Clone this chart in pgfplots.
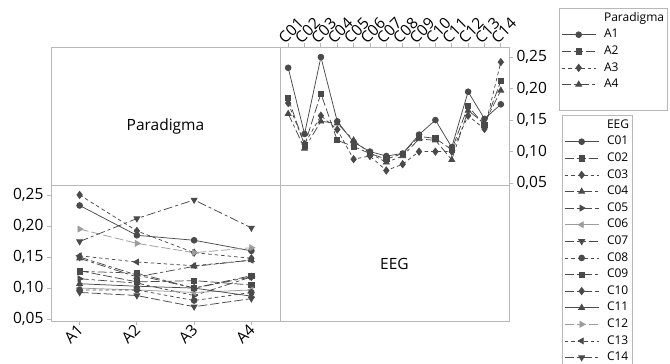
\documentclass[border=0pt]{standalone}
\usepackage{pgfplots}
\usepackage{pgfplotstable}
\usepackage{fontspec}
\setmainfont{Open Sans}
\pgfplotsset{compat=1.18}

\definecolor{dk}{HTML}{4A4A4A}
\definecolor{lt}{HTML}{9C9C9C}
\definecolor{fr}{HTML}{B8B8B8}

% values by EEG channel (rows) and Paradigma (columns)
\pgfplotstableread{
c A1 A2 A3 A4
1 0.233 0.185 0.177 0.160
2 0.128 0.110 0.112 0.105
3 0.250 0.192 0.157 0.148
4 0.148 0.118 0.135 0.145
5 0.115 0.108 0.088 0.118
6 0.100 0.097 0.093 0.097
7 0.093 0.088 0.070 0.083
8 0.097 0.097 0.080 0.093
9 0.127 0.124 0.100 0.120
10 0.150 0.121 0.100 0.118
11 0.107 0.103 0.100 0.087
12 0.195 0.172 0.157 0.165
13 0.152 0.142 0.136 0.145
14 0.175 0.212 0.242 0.197
}\byeeg

% same values, by Paradigma (rows) and EEG channel (columns)
\pgfplotstableread{
a C01 C02 C03 C04 C05 C06 C07 C08 C09 C10 C11 C12 C13 C14
1 0.233 0.128 0.250 0.148 0.115 0.100 0.093 0.097 0.127 0.150 0.107 0.195 0.152 0.175
2 0.185 0.110 0.192 0.118 0.108 0.097 0.088 0.097 0.124 0.121 0.103 0.172 0.142 0.212
3 0.177 0.112 0.157 0.135 0.088 0.093 0.070 0.080 0.100 0.100 0.100 0.157 0.136 0.242
4 0.160 0.105 0.148 0.145 0.118 0.097 0.083 0.093 0.120 0.118 0.087 0.165 0.145 0.197
}\bypar

\pgfplotsset{
  ldash/.style={dash pattern=on 9pt off 3pt},
  sdash/.style={dash pattern=on 3.5pt off 3pt},
  ddot/.style={dash pattern=on 9pt off 3pt on 3pt off 3pt},
  ddsh/.style={dash pattern=on 9pt off 3pt on 3.5pt off 3pt},
  mcirc/.style={mark=*, mark size=2.9pt, mark options={solid}},
  msq/.style={mark=square*, mark size=2.6pt, mark options={solid}},
  mdia/.style={mark=diamond*, mark size=3.6pt, mark options={solid}},
  mup/.style={mark=triangle*, mark size=3.4pt, mark options={solid}},
  mright/.style={mark=triangle*, mark size=3.4pt, mark options={solid, rotate=-90}},
  mleft/.style={mark=triangle*, mark size=3.4pt, mark options={solid, rotate=90}},
  mdown/.style={mark=triangle*, mark size=3.4pt, mark options={solid, rotate=180}},
  ser/.style={line width=0.75pt},
  common/.style={
    scale only axis, anchor=south west,
    ymin=0.047, ymax=0.266,
    ytick={0.05,0.10,0.15,0.20,0.25},
    scaled y ticks=false,
    major tick length=4pt,
    tick style={fr, line width=0.8pt},
    ticklabel style={font=\fontsize{15.5}{17}\selectfont, text=black},
    /pgf/number format/assume math mode=true,
    y tick label style={/pgf/number format/.cd, fixed, fixed zerofill, precision=2, use comma},
    legend cell align=left,
    legend image code/.code={\draw[mark repeat=2,mark phase=2] plot coordinates {(0pt,0pt) (17pt,0pt) (34pt,0pt)};},
    legend style={draw=fr, line width=0.8pt, inner xsep=2pt, inner ysep=3pt,
      font=\fontsize{12}{13}\selectfont, row sep=3.1pt, column sep=7pt,
      nodes={inner sep=1pt, text height=9pt, text depth=2.5pt}},
  },
}

\begin{document}
\begin{tikzpicture}
\useasboundingbox (0,0) rectangle (670pt,364pt);
\fill[white] (0,0) rectangle (670pt,364pt);
% 2x2 grid of panels
\draw[fr, line width=0.8pt] (51pt,179pt) rectangle (280pt,317pt);
\draw[fr, line width=0.8pt] (280pt,43pt) rectangle (509pt,179pt);
\draw[fr, line width=0.8pt] (280pt,179pt) rectangle (509pt,317pt);
\draw[fr, line width=0.8pt] (51pt,43pt) rectangle (280pt,179pt);
\node[font=\fontsize{15.5}{17}\selectfont] at (165.5pt,237.5pt) {Paradigma};
\node[font=\fontsize{15.5}{17}\selectfont] at (394.5pt,100.5pt) {EEG};

% top-right: x = EEG, lines = Paradigma
\begin{axis}[common,
  at={(280pt,179pt)}, width=229pt, height=138pt,
  xmin=0.5, xmax=14.5,
  axis x line=top, axis y line=right,
  axis line style={draw=none},
  tick align=outside,
  xtick={1,...,14},
  xticklabels={C01,C02,C03,C04,C05,C06,C07,C08,C09,C10,C11,C12,C13,C14},
  xticklabel style={rotate=45, anchor=south west, inner sep=1pt, xshift=-4pt},
  legend style={at={(1.218,1.283)}, anchor=north west},
]
\addlegendimage{empty legend}\addlegendentry{Paradigma}
\addplot[ser, dk, mcirc] table[x=c, y=A1] {\byeeg}; \addlegendentry{A1}
\addplot[ser, dk, ldash, msq] table[x=c, y=A2] {\byeeg}; \addlegendentry{A2}
\addplot[ser, dk, sdash, mdia] table[x=c, y=A3] {\byeeg}; \addlegendentry{A3}
\addplot[ser, dk, ddot, mup] table[x=c, y=A4] {\byeeg}; \addlegendentry{A4}
\addlegendimage{empty legend}\addlegendentry{}
\end{axis}

% bottom-left: x = Paradigma, lines = EEG
\begin{axis}[common,
  at={(51pt,43pt)}, width=229pt, height=136pt,
  xmin=0.5, xmax=4.5,
  axis x line=bottom, axis y line=left,
  axis line style={draw=none},
  tick align=outside,
  xtick={1,2,3,4}, xticklabels={A1,A2,A3,A4},
  xticklabel style={rotate=45, anchor=east, inner sep=1pt, yshift=-2pt},
  legend style={at={(2.231,1.515)}, anchor=north west},
]
\addlegendimage{empty legend}\addlegendentry{EEG}
\addplot[ser, dk, mcirc] table[x=a, y=C01] {\bypar}; \addlegendentry{C01}
\addplot[ser, dk, ldash, msq] table[x=a, y=C02] {\bypar}; \addlegendentry{C02}
\addplot[ser, dk, sdash, mdia] table[x=a, y=C03] {\bypar}; \addlegendentry{C03}
\addplot[ser, dk, ddot, mup] table[x=a, y=C04] {\bypar}; \addlegendentry{C04}
\addplot[ser, dk, ddsh, mright] table[x=a, y=C05] {\bypar}; \addlegendentry{C05}
\addplot[ser, lt, mleft] table[x=a, y=C06] {\bypar}; \addlegendentry{C06}
\addplot[ser, dk, ldash, mdown] table[x=a, y=C07] {\bypar}; \addlegendentry{C07}
\addplot[ser, dk, sdash, mcirc] table[x=a, y=C08] {\bypar}; \addlegendentry{C08}
\addplot[ser, dk, ddot, msq] table[x=a, y=C09] {\bypar}; \addlegendentry{C09}
\addplot[ser, dk, ddsh, mdia] table[x=a, y=C10] {\bypar}; \addlegendentry{C10}
\addplot[ser, dk, mup] table[x=a, y=C11] {\bypar}; \addlegendentry{C11}
\addplot[ser, lt, ldash, mright] table[x=a, y=C12] {\bypar}; \addlegendentry{C12}
\addplot[ser, dk, sdash, mleft] table[x=a, y=C13] {\bypar}; \addlegendentry{C13}
\addplot[ser, dk, ddot, mdown] table[x=a, y=C14] {\bypar}; \addlegendentry{C14}
\end{axis}
\end{tikzpicture}
\end{document}
